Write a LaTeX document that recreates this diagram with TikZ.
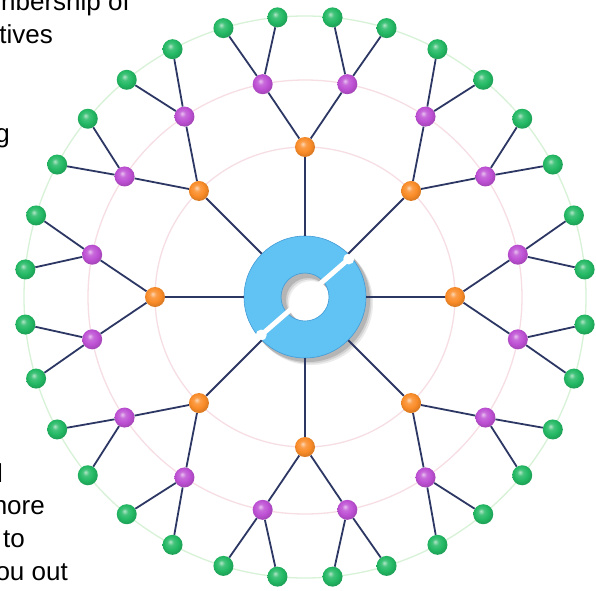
\documentclass[tikz,border=0pt]{standalone}
\usepackage{fontspec}
\setmainfont{Liberation Sans}
\usetikzlibrary{positioning}
\definecolor{netnavy}{RGB}{45,55,100}
\definecolor{leafgreen}{RGB}{35,185,100}
\definecolor{budpurple}{RGB}{190,80,212}
\definecolor{coreorange}{RGB}{250,140,40}
\definecolor{hubblue}{RGB}{96,195,243}
\definecolor{hubedge}{RGB}{66,155,215}
\definecolor{ringpink}{RGB}{246,222,228}
\definecolor{ringgreen}{RGB}{215,242,215}
\makeatletter
\pgfdeclareradialshading[tikz@ball]{glossy}{\pgfqpoint{-6bp}{8bp}}{%
    color(0bp)=(tikz@ball!35!white); color(8bp)=(tikz@ball!85!white);
    color(18bp)=(tikz@ball); color(26bp)=(tikz@ball!88!black);
    color(50bp)=(tikz@ball!70!black)}
\makeatother
\tikzset{
    netlink/.style={draw=netnavy, line width=1.8pt},
    guidering/.style={draw=#1, line width=1.3pt},
    hubnode/.style={circle, minimum size=122pt, inner sep=0pt},
    tiernode/.style={circle, minimum size=20pt, inner sep=0pt, ball color=#1, shading=glossy},
    pagetext/.style={anchor=base east, inner sep=0pt, font=\fontsize{26}{33}\selectfont},
}

\begin{document}
\begin{tikzpicture}[x=1pt, y=1pt]
    \clip (-305,-293) rectangle (291,297);
    \fill[white] (-305,-293) rectangle (291,297);
    % guide rings
    \draw[guidering=ringpink] (0,0) circle (150);
    \draw[guidering=ringpink] (0,0) circle (217);
    \draw[guidering=ringgreen] (0,0) circle (281);
    % hub
    \node[hubnode] (hub) at (0,0) {};
    \foreach \s/\o in {6/0.08, 4.5/0.10, 3/0.14} {
        \fill[black, opacity=\o, even odd rule] (\s,-\s) circle (62) (\s,-\s) circle (22);
    }
    \fill[hubblue, draw=hubedge, line width=0.6pt, even odd rule] (hub.center) circle (61) circle (24);
    \draw[white, line width=5pt] (221:66) -- (41:66);
    \fill[white] (41:58) circle (5.5);
    \fill[white] (221:58) circle (5.5);
    % tiers
    \foreach \i in {1,...,8} {
        \node[tiernode=coreorange] (o\i) at ({45*(\i-1)}:150) {};
    }
    \foreach \j in {1,...,16} {
        \node[tiernode=budpurple] (p\j) at ({22.5*(\j-1)-11.25}:217) {};
    }
    \foreach \k in {1,...,32} {
        \node[tiernode=leafgreen] (g\k) at ({11.25*(\k-1)-16.875}:281) {};
    }
    % links
    \foreach \i in {1,...,8} {
        \pgfmathtruncatemacro{\pa}{2*\i-1}
        \pgfmathtruncatemacro{\pb}{2*\i}
        \draw[netlink] (hub) -- (o\i);
        \draw[netlink] (o\i) -- (p\pa);
        \draw[netlink] (o\i) -- (p\pb);
    }
    \foreach \j in {1,...,16} {
        \pgfmathtruncatemacro{\ga}{2*\j-1}
        \pgfmathtruncatemacro{\gb}{2*\j}
        \draw[netlink] (p\j) -- (g\ga);
        \draw[netlink] (p\j) -- (g\gb);
    }
    % page text
    \node[pagetext] (txt1) at (-175,287) {nbership of};
    \node[pagetext] (txt2) at (-252,254) {tives};
    \node[pagetext] (txt3) at (-295,155) {g};
    \node[pagetext] (txt4) at (-302,-185) {l};
    \node[pagetext] (txt5) at (-260,-217) {nore};
    \node[pagetext] (txt6) at (-280,-250) {to};
    \node[pagetext] (txt7) at (-237,-283) {ou out};
\end{tikzpicture}
\end{document}
